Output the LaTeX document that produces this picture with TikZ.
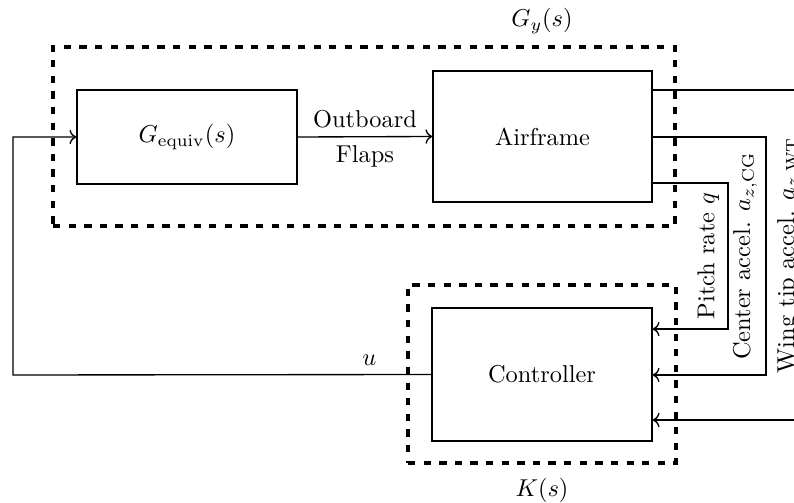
\documentclass[tikz,border=0pt]{standalone}
\usetikzlibrary{arrows.meta}
\begin{document}
\begin{tikzpicture}[x=0.41pt,y=-0.41pt,
  blk/.style={draw,line width=0.55pt,inner sep=0pt},
  dbox/.style={draw,line width=1.3pt,dash pattern=on 3pt off 3.4pt,inner sep=0pt},
  conn/.style={line width=0.55pt},
  arr/.style={conn,->}]
\useasboundingbox (0,0) rectangle (794,503);
\clip (0,0) rectangle (794,503);
% dashed groups
\node[dbox,minimum width=255pt,minimum height=73.4pt] (gy) at (364,136.5) {};
\node[dbox,minimum width=109.9pt,minimum height=73pt] (kb) at (542,374) {};
\node (gyl) at (542,21) {$G_y(s)$};
\node (kl) at (542,490) {$K(s)$};
% blocks
\node[blk,minimum width=90.2pt,minimum height=38.5pt] (ge) at (187,137) {$G_{\mathrm{equiv}}(s)$};
\node[blk,minimum width=89.8pt,minimum height=53.7pt] (af) at (542.5,136.5) {Airframe};
\node[blk,minimum width=90.2pt,minimum height=54.5pt] (ct) at (542,374.5) {Controller};
% corners
\coordinate (p1) at (728,183);
\coordinate (p2) at (728,329);
\coordinate (c1) at (766,137);
\coordinate (c2) at (766,375);
\coordinate (w1) at (810,90);
\coordinate (w2) at (810,420);
\coordinate (u1) at (13,375);
\coordinate (u2) at (13,137);
% connectors
\draw[arr] (ge.east) -- node[above]{Outboard} node[below]{Flaps} (af.west);
\draw[arr] (af.east |- p1) -- (p1) -- node[rotate=90,above]{Pitch rate $q$} (p2) -- (ct.east |- p2);
\draw[arr] (af.east |- c1) -- (c1) -- node[rotate=90,above]{Center accel. $a_{z,\mathrm{CG}}$} (c2) -- (ct.east |- c2);
\draw[arr] (af.east |- w1) -- (w1) -- node[rotate=90,above]{Wing tip accel. $a_{z,\mathrm{WT}}$} (w2) -- (ct.east |- w2);
\draw[arr] (ct.west) -- node[above,pos=0.148]{$u$} (u1) -- (u2) -- (ge.west);
\end{tikzpicture}
\end{document}
